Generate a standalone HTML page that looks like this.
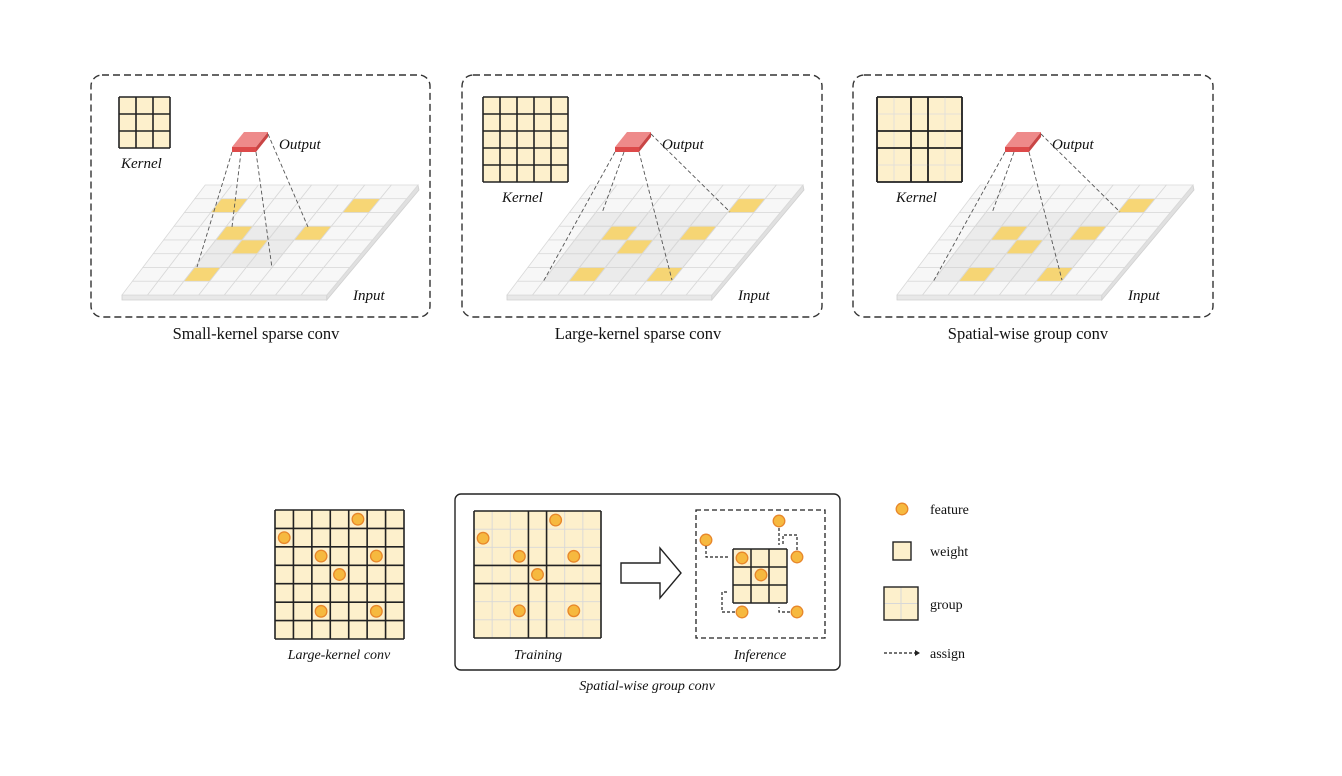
<!DOCTYPE html>
<html><head><meta charset="utf-8"><style>
html,body{margin:0;padding:0;background:#fff;}
svg{display:block;font-family:"Liberation Serif",serif;}
</style></head><body>
<svg id="s" width="1342" height="776" viewBox="0 0 1342 776" xmlns="http://www.w3.org/2000/svg"></svg>
<script>
const NS='http://www.w3.org/2000/svg';
const svg=document.getElementById('s');
const panelOffsets=[0,385,775];
const panelTitles=['Small-kernel sparse conv','Large-kernel sparse conv','Spatial-wise group conv'];
const highlights1=[[1,1],[6,1],[2,3],[5,3],[3,4],[2,6]];
const highlights23=[[6,1],[2,3],[5,3],[3,4],[2,6],[5,6]];
const featureCells=[[4,0],[0,1],[2,2],[5,2],[3,3],[2,5],[5,5]];
function mk(tag,a,parent){const e=document.createElementNS(NS,tag);for(const k in a)e.setAttribute(k,a[k]);(parent||svg).appendChild(e);return e;}
function txt(x,y,s,size,italic,anchor,parent){const t=mk('text',{x:x,y:y,'font-size':size,'font-style':italic?'italic':'normal','text-anchor':anchor||'start',fill:'#111'},parent);t.textContent=s;return t;}
const S=10.4,H=13.75,N=8;
function pt(BL,c,r){const w=25.6+(N-r)/N*1.0;return [BL+(N-r)*S+c*w, 295-(N-r)*H];}
function quad(BL,c,r,fill,op,g){const a=pt(BL,c,r),b=pt(BL,c+1,r),d=pt(BL,c+1,r+1),e=pt(BL,c,r+1);
 return mk('polygon',{points:[a,b,d,e].map(p=>p.join(',')).join(' '),fill:fill,'fill-opacity':op,stroke:'#d9d9d9','stroke-width':0.8},g);}
panelOffsets.forEach((o,i)=>{
 const g=mk('g',{});
 
 
 const box=mk('rect',{x:[91,462,853][i],y:75,width:i==0?339:360,height:242,rx:11,fill:'none',stroke:'#333','stroke-width':1.4,'stroke-dasharray':'7,4'},g);
 
 
 const BL=122+o;
 const p00=pt(BL,0,N),p10=pt(BL,N,N),p11=pt(BL,N,0);
 mk('polygon',{points:`${p00[0]},${p00[1]} ${p10[0]},${p10[1]} ${p10[0]},${p10[1]+5} ${p00[0]},${p00[1]+5}`,fill:'#e8e8e8',stroke:'#d0d0d0','stroke-width':0.8},g);
 mk('polygon',{points:`${p10[0]},${p10[1]} ${p11[0]},${p11[1]} ${p11[0]+1},${p11[1]+5} ${p10[0]},${p10[1]+5}`,fill:'#e0e0e0',stroke:'#d0d0d0','stroke-width':0.8},g);
 const plane=mk('g',{},g);
 
 
 for(let r=0;r<N;r++)for(let c=0;c<N;c++)quad(BL,c,r,'#f7f7f7',1,plane);
 const sh=i==0?{c0:2,c1:5,r0:3,r1:6}:{c0:1,c1:6,r0:2,r1:7};
 for(let r=sh.r0;r<sh.r1;r++)for(let c=sh.c0;c<sh.c1;c++)quad(BL,c,r,'#c4c4c4',0.22,plane);
 const hl=i==0?highlights1:highlights23;
 hl.forEach(([c,r])=>{const q=quad(BL,c,r,'#f7d46e',0.95,plane);});
 const kg=mk('g',{},g);
 
 
 const kx=[119,483,877][i],ky=97,kn=i==0?3:5,cs=17;
 mk('rect',{x:kx,y:ky,width:kn*cs,height:kn*cs,fill:'#fdf0cc'},kg);
 for(let k=0;k<=kn;k++){
  let thick=true;
  if(i==2)thick=[0,2,3,5].includes(k);
  const col=thick?'#222':'#ddd',sw=thick?1.6:0.8;
  mk('line',{x1:kx+k*cs,y1:ky,x2:kx+k*cs,y2:ky+kn*cs,stroke:col,'stroke-width':sw},kg);
  mk('line',{x1:kx,y1:ky+k*cs,x2:kx+kn*cs,y2:ky+k*cs,stroke:col,'stroke-width':sw},kg);
 }
 if(i==2){[0,2,3,5].forEach(k=>{mk('line',{x1:kx+k*cs,y1:ky,x2:kx+k*cs,y2:ky+kn*cs,stroke:'#222','stroke-width':1.6},kg);mk('line',{x1:kx,y1:ky+k*cs,x2:kx+kn*cs,y2:ky+k*cs,stroke:'#222','stroke-width':1.6},kg);});}
 const kl=txt([121,502,896][i],i==0?168:202,'Kernel',15,true,'start',g);
 
 
 const ox=232+[0,383,773][i];
 const og=mk('g',{},g);
 
 
 mk('polygon',{points:`${ox+12},132 ${ox+36},132 ${ox+24},147 ${ox},147`,fill:'#ee8a8a'},og);
 mk('polygon',{points:`${ox},147 ${ox+24},147 ${ox+24},152 ${ox},152`,fill:'#dd4a4a'},og);
 mk('polygon',{points:`${ox+24},147 ${ox+36},132 ${ox+36},137 ${ox+24},152`,fill:'#c94545'},og);
 const ol=txt(ox+47,149,'Output',15,true,'start',g);
 
 
 const ends=i==0?[[197,267],[232,227],[272,268],[308,227]]:[[BL+36,282],[BL+95,213],[BL+165,280],[BL+223,212]];
 const starts=[[ox,152],[ox+9,152],[ox+24,152],[ox+36,134]];
 ends.forEach((e,k)=>{const l=mk('line',{x1:starts[k][0],y1:starts[k][1],x2:e[0],y2:e[1],stroke:'#555','stroke-width':0.9,'stroke-dasharray':'4,2.5'},g);});
 const il=txt(BL+231,300,'Input',15,true,'start',g);
 
 
 const tl=txt([256,638,1028][i],339,panelTitles[i],16.5,false,'middle',g);
 
 
});
function circle(x,y,parent){const c=mk('circle',{cx:x,cy:y,r:5.8,fill:'#f6b93f',stroke:'#e8872a','stroke-width':1.3},parent);return c;}
function grid7(x,y,size,groups,parent){
 const cs=size/7;
 mk('rect',{x:x,y:y,width:size,height:size,fill:'#fdf0cc'},parent);
 for(let k=0;k<=7;k++){
  const thick=groups?[0,3,4,7].includes(k):true;
  if(!thick){mk('line',{x1:x+k*cs,y1:y,x2:x+k*cs,y2:y+size,stroke:'#d8d8d8','stroke-width':0.9},parent);mk('line',{x1:x,y1:y+k*cs,x2:x+size,y2:y+k*cs,stroke:'#d8d8d8','stroke-width':0.9},parent);}
 }
 for(let k=0;k<=7;k++){
  const thick=groups?[0,3,4,7].includes(k):true;
  if(thick){mk('line',{x1:x+k*cs,y1:y,x2:x+k*cs,y2:y+size,stroke:'#222','stroke-width':1.6},parent);mk('line',{x1:x,y1:y+k*cs,x2:x+size,y2:y+k*cs,stroke:'#222','stroke-width':1.6},parent);}
 }
 featureCells.forEach(([c,r])=>circle(x+(c+0.5)*cs,y+(r+0.5)*cs,parent));
}
const lk=mk('g',{});


grid7(275,510,129,false,lk);
const lkl=txt(339,659,'Large-kernel conv',14,true,'middle');


const sb=mk('rect',{x:455,y:494,width:385,height:176,rx:6,fill:'none',stroke:'#222','stroke-width':1.4});


const tg=mk('g',{});


grid7(474,511,127,true,tg);
const trl=txt(538,659,'Training',14,true,'middle');


const ar=mk('polygon',{points:'621,563 660,563 660,548 681,573 660,598 660,583 621,583',fill:'#fff',stroke:'#222','stroke-width':1.4});


const ib=mk('rect',{x:696,y:510,width:129,height:128,fill:'none',stroke:'#222','stroke-width':1.3,'stroke-dasharray':'5,3'});


const ig=mk('g',{});


mk('rect',{x:733,y:549,width:54,height:54,fill:'#fdf0cc'},ig);
for(let k=0;k<=3;k++){mk('line',{x1:733+k*18,y1:549,x2:733+k*18,y2:603,stroke:'#222','stroke-width':1.5},ig);mk('line',{x1:733,y1:549+k*18,x2:787,y2:549+k*18,stroke:'#222','stroke-width':1.5},ig);}
circle(742,558,ig);circle(761,575,ig);
[[706,540],[779,521],[797,557],[742,612],[797,612]].forEach(p=>circle(p[0],p[1],ig));
const paths=['M706,546 L706,557 L729,557','M779,528 L779,545','M797,550 L797,535 L783,535 L783,545','M735,612 L722,612 L722,592 L729,592','M790,612 L779,612 L779,607'];
paths.forEach(d=>{const p=mk('path',{d:d,fill:'none',stroke:'#222','stroke-width':1.2,'stroke-dasharray':'3,2'},ig);});
const inl=txt(760,659,'Inference',14,true,'middle');


const sgl=txt(647,690,'Spatial-wise group conv',14,true,'middle');


const lg=mk('g',{});


circle(902,509,lg);
txt(930,514,'feature',14,false,'start',lg);
mk('rect',{x:893,y:542,width:18,height:18,fill:'#fdf0cc',stroke:'#222','stroke-width':1.4},lg);
txt(930,556,'weight',14,false,'start',lg);
mk('rect',{x:884,y:587,width:34,height:33,fill:'#fdf0cc'},lg);
mk('line',{x1:901,y1:587,x2:901,y2:620,stroke:'#d8d8d8'},lg);
mk('line',{x1:884,y1:603.5,x2:918,y2:603.5,stroke:'#d8d8d8'},lg);
mk('rect',{x:884,y:587,width:34,height:33,fill:'none',stroke:'#222','stroke-width':1.4},lg);
txt(930,609,'group',14,false,'start',lg);
mk('line',{x1:884,y1:653,x2:915,y2:653,stroke:'#222','stroke-width':1.2,'stroke-dasharray':'3,2'},lg);
mk('polygon',{points:'915,650 920,653 915,656',fill:'#222'},lg);
txt(930,658,'assign',14,false,'start',lg);
</script>
</body></html>
